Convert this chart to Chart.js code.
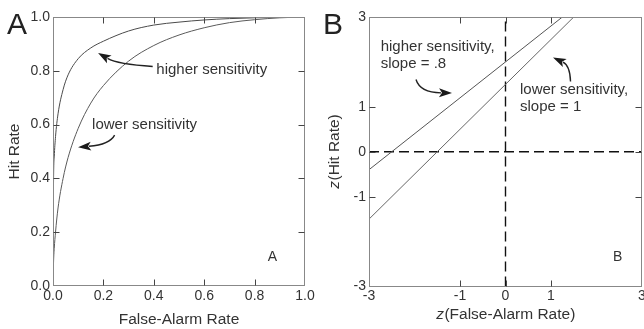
<!DOCTYPE html>
<html>
<head>
<meta charset="utf-8">
<script src="https://cdn.jsdelivr.net/npm/chart.js@4.4.0/dist/chart.umd.min.js"></script>
<style>
    html, body { margin: 0; padding: 0; background: #fff; overflow: hidden; width: 644px; height: 329px; }
    #panelA { position: absolute; left: 0; top: 0; width: 322px; height: 329px; }
    #panelB { position: absolute; left: 322px; top: 0; width: 330px; height: 329px; }
</style>
</head>
<body>
<div id="panelA"><canvas id="rocChart"></canvas></div>
<div id="panelB"><canvas id="zrocChart"></canvas></div>
<script>
// Panel A: ROC curves, hit rate against false-alarm rate
const falseAlarm = [0, 0.002, 0.005, 0.01, 0.02, 0.04, 0.06, 0.1, 0.15, 0.2, 0.3, 0.4, 0.5, 0.6, 0.7, 0.8, 0.9, 1.0];
const hitHigher  = [0, 0.38, 0.48, 0.555, 0.64, 0.73, 0.785, 0.845, 0.885, 0.91, 0.948, 0.97, 0.981, 0.989, 0.994, 0.997, 0.999, 1.0];
const hitLower   = [0, 0.085, 0.14, 0.2, 0.29, 0.4, 0.478, 0.586, 0.68, 0.745, 0.836, 0.894, 0.933, 0.96, 0.979, 0.99, 0.997, 1.0];
const rocTicks   = [0, 0.2, 0.4, 0.6, 0.8, 1.0];

// Panel B: the same curves in z coordinates are straight lines
const zHigherX = [-3, 1.25];
const zHigherY = [-0.4, 3];
const zLowerX  = [-3, 1.5];
const zLowerY  = [-1.5, 3];
const zAxisSpan = [-3, 3];
const zTicks   = [-3, -1, 0, 1, 3];

const FONT = "'Liberation Sans', Arial, sans-serif";
const INK = '#333';

function points(xs, ys) {
    return xs.map((v, i) => ({ x: v, y: ys[i] }));
}

// frame round the plot with short inward ticks on all four sides
const boxTicks = {
    id: 'boxTicks',
    afterDraw(chart) {
        const { ctx, chartArea: a, scales: { x, y } } = chart;
        const len = 6;
        const L = Math.round(a.left) + 0.5, R = Math.round(a.right) - 0.5;
        const T = Math.round(a.top) + 0.5, B = Math.round(a.bottom) - 0.5;
        ctx.save();
        ctx.strokeStyle = '#888';
        ctx.lineWidth = 1;
        ctx.strokeRect(L, T, R - L, B - T);
        ctx.strokeStyle = '#444';
        ctx.beginPath();
        x.ticks.forEach(t => {
            if (t.value === x.min || t.value === x.max) return;
            const px = Math.round(x.getPixelForValue(t.value)) + 0.5;
            ctx.moveTo(px, B); ctx.lineTo(px, B - len);
            ctx.moveTo(px, T); ctx.lineTo(px, T + len);
        });
        y.ticks.forEach(t => {
            if (t.value === y.min || t.value === y.max) return;
            const py = Math.round(y.getPixelForValue(t.value)) + 0.5;
            ctx.moveTo(L, py); ctx.lineTo(L + len, py);
            ctx.moveTo(R, py); ctx.lineTo(R - len, py);
        });
        ctx.stroke();
        ctx.restore();
    }
};

function drawArrow(ctx, pts) {
    const [s, c, e] = pts;
    const dx = e[0] - c[0], dy = e[1] - c[1];
    const d = Math.hypot(dx, dy);
    const ux = dx / d, uy = dy / d;
    const headLen = 13, headW = 4.5;
    const bx = e[0] - ux * headLen, by = e[1] - uy * headLen;
    ctx.beginPath();
    ctx.moveTo(s[0], s[1]);
    ctx.quadraticCurveTo(c[0], c[1], bx + ux * 2, by + uy * 2);
    ctx.stroke();
    ctx.beginPath();
    ctx.moveTo(e[0], e[1]);
    ctx.lineTo(bx - uy * headW, by + ux * headW);
    ctx.lineTo(bx + ux * 3, by + uy * 3);
    ctx.lineTo(bx + uy * headW, by - ux * headW);
    ctx.closePath();
    ctx.fill();
}

// labels and curved arrows, placed in data coordinates
const notes = {
    id: 'notes',
    afterDraw(chart, args, opts) {
        const { ctx, scales: { x, y } } = chart;
        ctx.save();
        ctx.fillStyle = INK;
        ctx.strokeStyle = '#222';
        ctx.lineWidth = 1.4;
        (opts.labels || []).forEach(l => {
            ctx.font = (l.size || 15) + 'px ' + FONT;
            ctx.textAlign = l.align || 'left';
            ctx.textBaseline = 'middle';
            ctx.fillText(l.text, x.getPixelForValue(l.at[0]), y.getPixelForValue(l.at[1]));
        });
        ctx.fillStyle = '#1a1a1a';
        (opts.arrows || []).forEach(a => {
            drawArrow(ctx, a.map(p => [x.getPixelForValue(p[0]), y.getPixelForValue(p[1])]));
        });
        if (opts.panel) {
            ctx.fillStyle = '#222';
            ctx.font = '30px ' + FONT;
            ctx.textAlign = 'left';
            ctx.textBaseline = 'alphabetic';
            ctx.fillText(opts.panel.text, opts.panel.left, opts.panel.baseline);
        }
        ctx.restore();
    }
};

// axis titles with an italic z in front
function italicZ(ctx, rest, cx, cy) {
    const zf = 'italic 15.5px ' + FONT, nf = '15.5px ' + FONT;
    ctx.font = zf;
    const wz = ctx.measureText('z').width;
    ctx.font = nf;
    const wr = ctx.measureText(rest).width;
    const x0 = cx - (wz + wr) / 2;
    ctx.textAlign = 'left';
    ctx.textBaseline = 'middle';
    ctx.font = zf;
    ctx.fillText('z', x0, cy);
    ctx.font = nf;
    ctx.fillText(rest, x0 + wz + 0.5, cy);
}

const zTitles = {
    id: 'zTitles',
    afterDraw(chart, args, opts) {
        const { ctx, chartArea: a } = chart;
        ctx.save();
        ctx.fillStyle = INK;
        italicZ(ctx, opts.xText, (a.left + a.right) / 2, opts.xTitleY);
        ctx.translate(opts.yTitleX, (a.top + a.bottom) / 2);
        ctx.rotate(-Math.PI / 2);
        italicZ(ctx, opts.yText, 0, 0);
        ctx.restore();
    }
};

function axis(min, max, tickValues, fmt, size, extra) {
    return Object.assign({
        type: 'linear',
        min: min,
        max: max,
        afterBuildTicks: s => { s.ticks = tickValues.map(v => ({ value: v })); },
        grid: { display: false, drawTicks: false },
        border: { display: false },
        ticks: {
            callback: fmt,
            color: INK,
            font: { family: FONT, size: 14, lineHeight: 1 },
            padding: 3,
            maxRotation: 0,
            autoSkip: false
        }
    }, extra, { afterFit: s => { if (s.isHorizontal()) s.height = size; else s.width = size; } });
}

function lineSet(data, color, extra) {
    return Object.assign({
        data: data,
        showLine: true,
        borderColor: color,
        borderWidth: 1,
        pointRadius: 0,
        fill: false
    }, extra);
}

function init() {
    const rocCtx = document.getElementById('rocChart').getContext('2d');
    new Chart(rocCtx, {
        type: 'scatter',
        data: {
            datasets: [
                lineSet(points(falseAlarm, hitHigher), '#4a4a4a', { cubicInterpolationMode: 'monotone' }),
                lineSet(points(falseAlarm, hitLower), '#5a5a5a', { cubicInterpolationMode: 'monotone' })
            ]
        },
        options: {
            responsive: true,
            maintainAspectRatio: false,
            animation: false,
            events: [],
            layout: { padding: { left: 0, top: 17, right: 17, bottom: 0 } },
            scales: {
                x: axis(0, 1, rocTicks, v => v.toFixed(1), 43, {
                    title: { display: true, text: 'False-Alarm Rate', color: INK,
                             font: { family: FONT, size: 15.5, lineHeight: 1 }, padding: { top: 0, bottom: 2 } }
                }),
                y: axis(0, 1, rocTicks, v => v.toFixed(1), 53, {
                    title: { display: true, text: 'Hit Rate', color: INK,
                             font: { family: FONT, size: 15.5, lineHeight: 1 }, padding: { top: 6.5, bottom: 0 } }
                })
            },
            plugins: {
                legend: { display: false },
                tooltip: { enabled: false },
                notes: {
                    labels: [
                        { text: 'higher sensitivity', at: [0.41, 0.803] },
                        { text: 'lower sensitivity', at: [0.155, 0.6] },
                        { text: 'A', at: [0.871, 0.106], size: 14, align: 'center' }
                    ],
                    arrows: [
                        [[0.3956, 0.8162], [0.2565, 0.8237], [0.1789, 0.8666]],
                        [[0.2445, 0.5609], [0.2247, 0.5255], [0.0994, 0.5162]]
                    ],
                    panel: { text: 'A', left: 7, baseline: 33.5 }
                }
            }
        },
        plugins: [boxTicks, notes]
    });

    const zCtx = document.getElementById('zrocChart').getContext('2d');
    new Chart(zCtx, {
        type: 'scatter',
        data: {
            datasets: [
                lineSet(points(zHigherX, zHigherY), '#555'),
                lineSet(points(zLowerX, zLowerY), '#666'),
                lineSet(points(zAxisSpan, [0, 0]), '#111', { borderWidth: 1.4, borderDash: [10, 5] }),
                lineSet(points([0, 0], zAxisSpan), '#111', { borderWidth: 1.4, borderDash: [10, 5] })
            ]
        },
        options: {
            responsive: true,
            maintainAspectRatio: false,
            animation: false,
            events: [],
            layout: { padding: { left: 0, top: 17, right: 10, bottom: 0 } },
            scales: {
                x: axis(-3, 3, zTicks, v => String(v), 42.5),
                y: axis(-3, 3, zTicks, v => String(v), 47)
            },
            plugins: {
                legend: { display: false },
                tooltip: { enabled: false },
                zTitles: { xText: '(False-Alarm Rate)', xTitleY: 315, yText: '(Hit Rate)', yTitleX: 13 },
                notes: {
                    labels: [
                        { text: 'higher sensitivity,', at: [-2.743, 2.34] },
                        { text: 'slope = .8', at: [-2.743, 1.96] },
                        { text: 'lower sensitivity,', at: [0.319, 1.38] },
                        { text: 'slope = 1', at: [0.319, 0.99] },
                        { text: 'B', at: [2.466, -2.34], size: 14, align: 'center' }
                    ],
                    arrows: [
                        [[-1.967, 1.609], [-1.879, 1.319], [-1.176, 1.308]],
                        [[1.429, 1.565], [1.418, 1.922], [1.044, 2.1]]
                    ],
                    panel: { text: 'B', left: 1, baseline: 33.5 }
                }
            }
        },
        plugins: [boxTicks, notes, zTitles]
    });
}

init();
</script>
</body>
</html>
